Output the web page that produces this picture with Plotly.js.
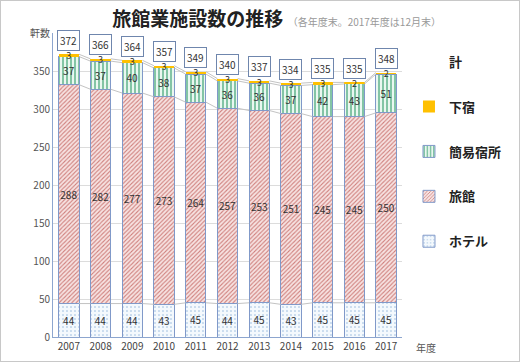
<!DOCTYPE html>
<html><head><meta charset="utf-8">
<script src="https://cdn.plot.ly/plotly-3.0.1.min.js"></script>
<style>
html,body{margin:0;padding:0;background:#fff;}
#chart{width:518px;height:360px;border:1px solid #c8c8c8;}
</style></head>
<body><div id="chart"></div>
<script>
const years = ['2007','2008','2009','2010','2011','2012','2013','2014','2015','2016','2017'];
const hotel   = [44,44,44,43,45,44,45,43,45,45,45];
const ryokan  = [288,282,277,273,264,257,253,251,245,245,250];
const kani    = [37,37,40,38,37,36,36,37,42,43,51];
const geshuku = [3,3,3,3,3,3,3,3,3,2,2];
const total   = [372,366,364,357,349,340,337,334,335,335,348];
const yTicks = [0,50,100,150,200,250,300,350,400];
const yTickText = ['0','50','100','150','200','250','300','350','軒数'];

const FONT = 'Noto Sans CJK JP, Noto Sans, sans-serif';
const idx = years.map((_, i) => i);
const BW = 0.64;
const outline = {color: '#8099c9', width: 1};

function barTrace(name, vals, pattern, bg, rank, fsize) {
  return {
    type: 'bar', name: name, x: idx, y: vals, width: BW,
    legendgroup: name, legendrank: rank,
    marker: {color: bg, line: outline, pattern: pattern},
    text: vals.map(String),
    textposition: 'inside', insidetextanchor: 'middle', constraintext: 'none', textangle: 0,
    textfont: {family: FONT, size: fsize, color: '#333'},
    hoverinfo: 'name+y'
  };
}

const traces = [
  barTrace('ホテル', hotel, {shape: '.', bgcolor: '#f4f9fd', fgcolor: '#93b6dc', size: 4, solidity: 0.12}, '#f4f9fd', 5, 10),
  barTrace('旅館', ryokan, {shape: '/', bgcolor: '#f7e3e2', fgcolor: '#cf7f7c', size: 3, solidity: 0.35}, '#f7e3e2', 4, 10),
  barTrace('簡易宿所', kani, {shape: '|', bgcolor: '#eaf7f0', fgcolor: '#3ea373', size: 4, solidity: 0.3}, '#eaf7f0', 3, 10),
  barTrace('下宿', geshuku, undefined, '#ffc000', 2, 9)
];
traces[3].marker = {color: '#ffc000', line: {color: '#ffc000', width: 0}};

// series lines between bars, derived from cumulative stacks
const layers = [hotel, ryokan, kani, geshuku];
let cum = years.map(() => 0);
layers.forEach((arr) => {
  cum = cum.map((c, i) => c + arr[i]);
  const xs = [], ys = [];
  for (let i = 0; i < years.length - 1; i++) {
    xs.push(i + BW / 2, i + 1 - BW / 2, null);
    ys.push(cum[i], cum[i + 1], null);
  }
  traces.push({type: 'scatter', mode: 'lines', x: xs, y: ys, showlegend: false,
    hoverinfo: 'skip', line: {color: '#c3c3c3', width: 1}});
});

// legend entry for total (no symbol)
traces.push({type: 'scatter', mode: 'lines', name: '計', legendgroup: '計', legendrank: 1, x: idx, y: total,
  line: {width: 0, color: 'rgba(0,0,0,0)'}, hoverinfo: 'skip'});

const annotations = total.map((t, i) => ({
  x: i, y: t, xref: 'x', yref: 'y', text: String(t), showarrow: false,
  yshift: 14, font: {family: FONT, size: 10, color: '#333'},
  bgcolor: '#ffffff', bordercolor: '#6f86ad', borderwidth: 1, borderpad: 2
}));
annotations.push({xref: 'paper', yref: 'paper', x: 1.035, y: -0.035, xanchor: 'left', yanchor: 'middle',
  text: '年度', showarrow: false, font: {family: FONT, size: 10, color: '#555'}});

const layout = {
  width: 518, height: 360,
  margin: {l: 52, r: 87, t: 32, b: 24},
  paper_bgcolor: '#fff', plot_bgcolor: '#fff',
  font: {family: FONT, size: 10, color: '#444'},
  title: {text: '<b>旅館業施設数の推移</b> <span style="font-size:10px;color:#999;font-weight:normal">（各年度末。2017年度は12月末）</span>',
    x: 0.215, xanchor: 'left', xref: 'container', y: 0.948, yanchor: 'middle', yref: 'container',
    font: {family: FONT, size: 19, color: '#222'}},
  barmode: 'stack', bargap: 0.36,
  xaxis: {type: 'linear', range: [-0.5, 10.5], tickvals: idx, ticktext: years,
    showgrid: false, zeroline: false, showline: true, linecolor: '#8da6cf', linewidth: 1,
    ticks: '', tickfont: {family: FONT, size: 10, color: '#444'}, fixedrange: true},
  yaxis: {range: [0, 400], tickvals: yTicks, ticktext: yTickText,
    showgrid: true, gridcolor: '#dcdcdc', gridwidth: 1, zeroline: false,
    showline: true, linecolor: '#8da6cf', linewidth: 1, ticks: '',
    tickfont: {family: FONT, size: 10, color: '#555'}, fixedrange: true},
  legend: {x: 1.02, xanchor: 'left', y: 0.955, yanchor: 'top', traceorder: 'grouped',
    tracegroupgap: 25, bgcolor: 'rgba(0,0,0,0)', itemwidth: 30,
    font: {family: FONT, size: 13, color: '#222', weight: 'bold'}},
  annotations: annotations,
  showlegend: true
};

Plotly.newPlot('chart', traces, layout, {displayModeBar: false, staticPlot: true});
</script></body></html>
